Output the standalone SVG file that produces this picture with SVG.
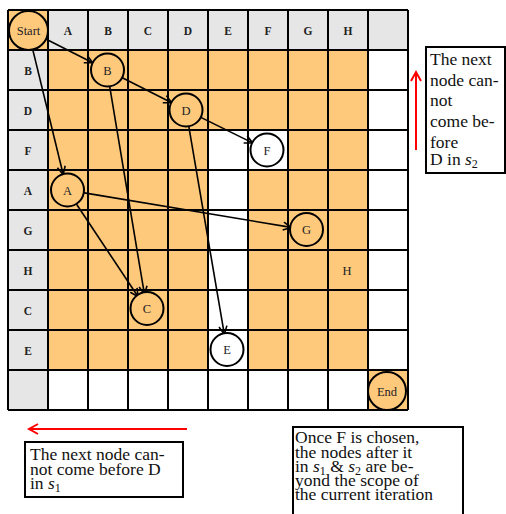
<svg xmlns="http://www.w3.org/2000/svg" width="506" height="514" viewBox="0 0 506 514">
<style>
.hdr{font-family:"Liberation Serif","Times New Roman",serif;font-weight:bold;font-size:11.5px;fill:#222;text-anchor:middle}
.lbl{font-family:"Liberation Serif","Times New Roman",serif;font-size:12.5px;fill:#222;text-anchor:middle}
.note{font-family:"Liberation Serif","Times New Roman",serif;font-size:17.5px;fill:#111}
.nd{stroke:#000;stroke-width:2}
.or{fill:#ffc97c}
.wh{fill:#fff}
.gr{fill:#e6e6e6}
.edge{stroke:#000;stroke-width:1.6;fill:none;marker-end:url(#ah)}
.red{stroke:#f00;stroke-width:2;fill:none;marker-end:url(#rh)}
.grid{stroke:#000;stroke-width:2}
.box{fill:#fff;stroke:#000;stroke-width:2}
</style>
<defs>
<marker id="ah" markerUnits="userSpaceOnUse" markerWidth="10" markerHeight="10" refX="8" refY="4" orient="auto" overflow="visible">
<path d="M0,0 L8,4 L0,8" fill="none" stroke="#000" stroke-width="1.6"/>
</marker>
<marker id="rh" markerUnits="userSpaceOnUse" markerWidth="10" markerHeight="12" refX="9" refY="5" orient="auto" overflow="visible">
<path d="M0,0 L9,5 L0,10" fill="none" stroke="#f00" stroke-width="2"/>
</marker>
</defs>
<rect width="506" height="514" fill="#fff"/>
<g id="grid">
<rect class="or" x="8" y="10" width="40" height="40"/>
<rect class="gr" x="48" y="10" width="360" height="40"/>
<rect class="gr" x="8" y="50" width="40" height="360"/>
<rect class="or" x="48" y="50" width="320" height="320"/>
<rect class="wh" x="208" y="130" width="40" height="240"/>
<rect class="wh" x="248" y="130" width="40" height="40"/>
<rect class="wh" x="368" y="50" width="40" height="320"/>
<rect class="wh" x="48" y="370" width="320" height="40"/>
<rect class="or" x="368" y="370" width="40" height="40"/>
<path class="grid" d="M8,10V410M48,10V410M88,10V410M128,10V410M168,10V410M208,10V410M248,10V410M288,10V410M328,10V410M368,10V410M408,10V410M8,10H408M8,50H408M8,90H408M8,130H408M8,170H408M8,210H408M8,250H408M8,290H408M8,330H408M8,370H408M8,410H408"/>
<g class="hdr">
<text x="68" y="34.5">A</text><text x="108" y="34.5">B</text><text x="148" y="34.5">C</text><text x="188" y="34.5">D</text><text x="228" y="34.5">E</text><text x="268" y="34.5">F</text><text x="308" y="34.5">G</text><text x="348" y="34.5">H</text>
<text x="28" y="74.5">B</text><text x="28" y="114.5">D</text><text x="28" y="154.5">F</text><text x="28" y="194.5">A</text><text x="28" y="234.5">G</text><text x="28" y="274.5">H</text><text x="28" y="314.5">C</text><text x="28" y="354.5">E</text>
</g>
<text class="lbl" x="347" y="274.5">H</text>
</g>
<g id="connectors">
<line class="edge" x1="45.8" y1="39" x2="92.7" y2="62.8"/>
<line class="edge" x1="32.7" y1="49.4" x2="63.2" y2="174.5"/>
<line class="edge" x1="121.3" y1="77.2" x2="171.7" y2="102.8"/>
<line class="edge" x1="109.6" y1="85.8" x2="144.4" y2="294.2"/>
<line class="edge" x1="200.3" y1="117.1" x2="252.6" y2="142.9"/>
<line class="edge" x1="188.7" y1="125.8" x2="224.3" y2="334.2"/>
<line class="edge" x1="75.9" y1="203.3" x2="138.1" y2="296.7"/>
<line class="edge" x1="82.8" y1="192.6" x2="291.2" y2="227.4"/>
<line class="red" x1="416" y1="150" x2="416" y2="72"/>
<line class="red" x1="187" y1="429" x2="29" y2="429"/>
</g>
<g id="node-start"><circle class="nd or" cx="28.5" cy="30.5" r="19.5"/><text class="lbl" x="28.5" y="35">Start</text></g>
<g id="node-B"><circle class="nd or" cx="107.5" cy="70" r="16.5"/><text class="lbl" x="107.5" y="74.5">B</text></g>
<g id="node-D"><circle class="nd or" cx="186" cy="110" r="16.5"/><text class="lbl" x="186" y="114.5">D</text></g>
<g id="node-F"><circle class="nd wh" cx="267" cy="150" r="16.5"/><text class="lbl" x="267" y="154.5">F</text></g>
<g id="node-A"><circle class="nd or" cx="67.5" cy="190" r="16.5"/><text class="lbl" x="67.5" y="194.5">A</text></g>
<g id="node-G"><circle class="nd or" cx="306.5" cy="229.5" r="16.5"/><text class="lbl" x="306.5" y="234">G</text></g>
<g id="node-C"><circle class="nd or" cx="147" cy="308.5" r="16.5"/><text class="lbl" x="147" y="313">C</text></g>
<g id="node-E"><circle class="nd wh" cx="227" cy="349.5" r="16.5"/><text class="lbl" x="227" y="354">E</text></g>
<g id="node-end"><circle class="nd or" cx="387" cy="391" r="19"/><text class="lbl" x="387" y="395.5">End</text></g>
<g id="note-s2">
<rect class="box" x="426" y="47" width="79" height="126"/>
<text class="note" x="430"><tspan x="430" y="65">The next</tspan><tspan x="430" y="86">node can-</tspan><tspan x="430" y="106">not</tspan><tspan x="430" y="127">come be-</tspan><tspan x="430" y="148">fore</tspan><tspan x="430" y="165">D in <tspan font-style="italic">s</tspan><tspan font-size="12" dy="3">2</tspan></tspan></text>
</g>
<g id="note-s1">
<rect class="box" x="25" y="442" width="158" height="55"/>
<text class="note"><tspan x="30" y="460">The next node can-</tspan><tspan x="30" y="474.5">not come before D</tspan><tspan x="30" y="489">in <tspan font-style="italic">s</tspan><tspan font-size="12" dy="3">1</tspan></tspan></text>
</g>
<g id="note-f">
<rect class="box" x="293" y="427" width="170" height="100"/>
<text class="note"><tspan x="295" y="443">Once F is chosen,</tspan><tspan x="295" y="457.5">the nodes after it</tspan><tspan x="295" y="471.5">in <tspan font-style="italic">s</tspan><tspan font-size="12" dy="3">1</tspan><tspan dy="-3"> &amp; </tspan><tspan font-style="italic">s</tspan><tspan font-size="12" dy="3">2</tspan><tspan dy="-3"> are be-</tspan></tspan><tspan x="295" y="486">yond the scope of</tspan><tspan x="295" y="500">the current iteration</tspan></text>
</g>
</svg>
